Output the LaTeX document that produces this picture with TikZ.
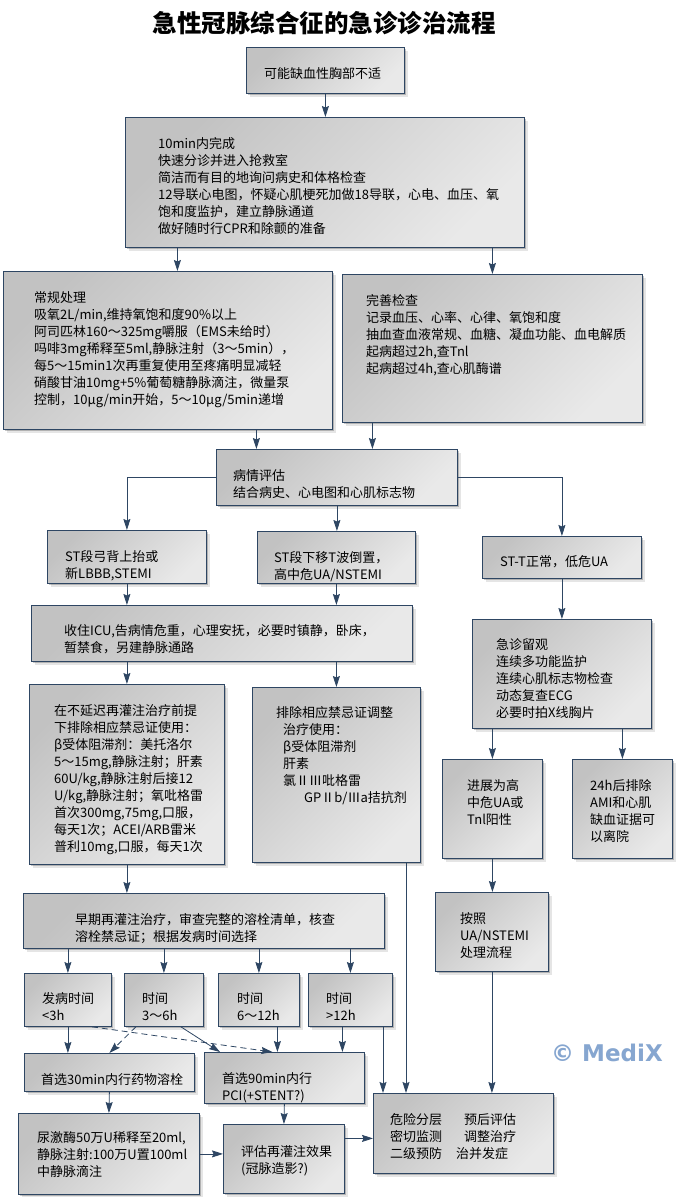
\documentclass[tikz,border=0pt]{standalone}
\usepackage{fontspec}
\setmainfont{Noto Sans CJK SC}
\newfontfamily\markfont{DejaVu Sans}
\usetikzlibrary{arrows.meta,shadows}
\definecolor{edge}{HTML}{2E4663}
\definecolor{boxdark}{HTML}{C2C2C2}
\definecolor{boxlight}{HTML}{E9E9E9}
\definecolor{markblue}{HTML}{86A6D0}
\tikzset{
	box/.style={draw=edge, line width=0.8pt, anchor=north west, inner sep=0pt,
		top color=boxdark, bottom color=boxlight, shading angle=45,
		general shadow={shadow xshift=2pt, shadow yshift=-2pt, fill=black, opacity=.22},
		general shadow={shadow xshift=4pt, shadow yshift=-4pt, fill=black, opacity=.1}},
	txt/.style={anchor=north west, inner sep=0pt, align=left, font=\fontsize{13}{17}\selectfont},
	arr/.style={draw=edge, line width=0.8pt, -{Stealth[length=11pt, width=7pt, inset=1.5pt]}},
	darr/.style={arr, dash pattern=on 6pt off 4pt}
}
\begin{document}
\begin{tikzpicture}[x=1pt, y=-1pt]
		\useasboundingbox (0,0) rectangle (675,1197);
		\fill[white] (0,0) rectangle (675,1197);
		\node[font=\fontsize{24.5}{28}\selectfont\bfseries] (title) at (324,23) {急性冠脉综合征的急诊诊治流程};
		
		\node[box, minimum width=158, minimum height=46] (chest) at (246,47) {};
		\node[txt] (chestT) at ([xshift=18, yshift=-20.5]chest.north west) {可能缺血性胸部不适};
		
		\node[box, minimum width=399, minimum height=130] (triage) at (125,117) {};
		\node[txt] (triageT) at ([xshift=33, yshift=-20.5]triage.north west) {10min内完成\\快速分诊并进入抢救室\\简洁而有目的地询问病史和体格检查\\12导联心电图，怀疑心肌梗死加做18导联，心电、血压、氧\\饱和度监护，建立静脉通道\\做好随时行CPR和除颤的准备};
		
		\node[box, minimum width=329, minimum height=158] (routine) at (3,271) {};
		\node[txt] (routineT) at ([xshift=31, yshift=-20.5]routine.north west) {常规处理\\吸氧2L/min,维持氧饱和度90\%以上\\阿司匹林160～325mg嚼服（EMS未给时）\\吗啡3mg稀释至5ml,静脉注射（3～5min），\\每5～15min1次再重复使用至疼痛明显减轻\\硝酸甘油10mg+5\%葡萄糖静脉滴注，微量泵\\控制，10μg/min开始，5～10μg/5min递增};
		
		\node[box, minimum width=300, minimum height=148] (exam) at (342,274) {};
		\node[txt] (examT) at ([xshift=24, yshift=-20.5]exam.north west) {完善检查\\记录血压、心率、心律、氧饱和度\\抽血查血液常规、血糖、凝血功能、血电解质\\起病超过2h,查Tnl\\起病超过4h,查心肌酶谱};
		
		\node[box, minimum width=241, minimum height=56] (assess) at (216,449) {};
		\node[txt] (assessT) at ([xshift=17, yshift=-20.5]assess.north west) {病情评估\\结合病史、心电图和心肌标志物};
		
		\node[box, minimum width=159, minimum height=53] (stemi) at (47,530) {};
		\node[txt] (stemiT) at ([xshift=18, yshift=-20.5]stemi.north west) {ST段弓背上抬或\\新LBBB,STEMI};
		
		\node[box, minimum width=158, minimum height=52] (nstemi) at (257,531) {};
		\node[txt] (nstemiT) at ([xshift=17, yshift=-20.5]nstemi.north west) {ST段下移T波倒置，\\高中危UA/NSTEMI};
		
		\node[box, minimum width=159, minimum height=42] (lowua) at (482,536) {};
		\node[txt] (lowuaT) at ([xshift=18, yshift=-19.5]lowua.north west) {ST-T正常，低危UA};
		
		\node[box, minimum width=381, minimum height=56] (icu) at (31,605) {};
		\node[txt] (icuT) at ([xshift=33, yshift=-19.5]icu.north west) {收住ICU,告病情危重，心理安抚，必要时镇静，卧床，\\暂禁食，另建静脉通路};
		
		\node[box, minimum width=179, minimum height=109] (observe) at (472,619) {};
		\node[txt] (observeT) at ([xshift=24, yshift=-19.5]observe.north west) {急诊留观\\连续多功能监护\\连续心肌标志物检查\\动态复查ECG\\必要时拍X线胸片};
		
		\node[box, minimum width=100, minimum height=99] (worse) at (442,759) {};
		\node[txt] (worseT) at ([xshift=25, yshift=-20.5]worse.north west) {进展为高\\中危UA或\\Tnl阳性};
		
		\node[box, minimum width=100, minimum height=99] (discharge) at (572,759) {};
		\node[txt] (dischargeT) at ([xshift=18, yshift=-20.5]discharge.north west) {24h后排除\\AMI和心肌\\缺血证据可\\以离院};
		
		\node[box, minimum width=195, minimum height=180] (stemidrug) at (29,684) {};
		\node[txt] (stemidrugT) at ([xshift=25, yshift=-20.5]stemidrug.north west) {在不延迟再灌注治疗前提\\下排除相应禁忌证使用：\\β受体阻滞剂：美托洛尔\\5～15mg,静脉注射；肝素\\60U/kg,静脉注射后接12\\U/kg,静脉注射；氧吡格雷\\首次300mg,75mg,口服，\\每天1次；ACEI/ARB雷米\\普利10mg,口服，每天1次};
		
		\node[box, minimum width=168, minimum height=175] (nstemidrug) at (252,687) {};
		\node[txt] (nstemidrugT) at ([xshift=24, yshift=-19.5]nstemidrug.north west) {排除相应禁忌证调整\\\hspace{7pt}治疗使用：\\\hspace{7pt}β受体阻滞剂\\\hspace{7pt}肝素\\\hspace{7pt}氯ⅡⅢ吡格雷\\\hspace{28pt}GPⅡb/Ⅲa拮抗剂};
		
		\node[box, minimum width=361, minimum height=55] (reperf) at (23,893) {};
		\node[txt] (reperfT) at ([xshift=52, yshift=-20.5]reperf.north west) {早期再灌注治疗，审查完整的溶栓清单，核查\\溶栓禁忌证；根据发病时间选择};
		
		\node[box, minimum width=87, minimum height=53] (onsetA) at (24,973) {};
		\node[txt] (onsetAT) at ([xshift=18, yshift=-19.5]onsetA.north west) {发病时间\\<3h};
		\node[box, minimum width=79, minimum height=53] (onsetB) at (124,973) {};
		\node[txt] (onsetBT) at ([xshift=18, yshift=-19.5]onsetB.north west) {时间\\3～6h};
		\node[box, minimum width=81, minimum height=53] (onsetC) at (218,973) {};
		\node[txt] (onsetCT) at ([xshift=19, yshift=-19.5]onsetC.north west) {时间\\6～12h};
		\node[box, minimum width=84, minimum height=53] (onsetD) at (308,973) {};
		\node[txt] (onsetDT) at ([xshift=18, yshift=-19.5]onsetD.north west) {时间\\>12h};
		
		\node[box, minimum width=113, minimum height=79] (uaflow) at (435,892) {};
		\node[txt] (uaflowT) at ([xshift=25, yshift=-20.5]uaflow.north west) {按照\\UA/NSTEMI\\处理流程};
		
		\node[box, minimum width=170, minimum height=38] (lysis) at (24,1053) {};
		\node[txt] (lysisT) at ([xshift=17, yshift=-20.5]lysis.north west) {首选30min内行药物溶栓};
		
		\node[box, minimum width=160, minimum height=51] (pci) at (204,1052) {};
		\node[txt] (pciT) at ([xshift=18, yshift=-20.5]pci.north west) {首选90min内行\\PCI(+STENT?)};
		
		\node[box, minimum width=181, minimum height=81] (urokinase) at (18,1113) {};
		\node[txt] (urokinaseT) at ([xshift=19, yshift=-18.5]urokinase.north west) {尿激酶50万U稀释至20ml,\\静脉注射:100万U置100ml\\中静脉滴注};
		
		\node[box, minimum width=121, minimum height=69] (evaluate) at (223,1124) {};
		\node[txt] (evaluateT) at ([xshift=18, yshift=-21.5]evaluate.north west) {评估再灌注效果\\(冠脉造影?)};
		
		\node[box, minimum width=180, minimum height=80] (final) at (373,1093) {};
		\node[txt] (finalT) at ([xshift=17, yshift=-20.5]final.north west) {危险分层\hspace{22pt}预后评估\\密切监测\hspace{22pt}调整治疗\\二级预防\hspace{14pt}治并发症};
		
		\node[font=\markfont\bfseries\fontsize{23}{26}\selectfont, text=markblue] (mark) at (607,1053) {© MediX};
		
		\coordinate (routineIn) at ([xshift=9.5]routine.north);
		\coordinate (assessInA) at ([xshift=-80.5]assess.north);
		\coordinate (assessInB) at ([xshift=35.5]assess.north);
		\coordinate (pciInC) at ([xshift=-7]pci.north);
		\coordinate (pciInD) at ([xshift=58]pci.north);
		\coordinate (finalInA) at ([xshift=10]final.north west);
		\coordinate (finalInB) at ([xshift=33]final.north west);
		\coordinate (finalInC) at ([yshift=-5]final.west);
		
		\draw[arr] (chest) -- (chest |- triage.north);
		\draw[arr] (triage.south -| routineIn) -- (routineIn);
		\draw[arr] (triage.south -| exam.north) -- (exam.north);
		\draw[arr] (routine.south -| assessInA) -- (assessInA);
		\draw[arr] (exam.south -| assessInB) -- (assessInB);
		\draw[arr] (assess.west) -| (stemi.north);
		\draw[arr] (assess.south) -- (assess.south |- nstemi.north);
		\draw[arr] (assess.east) -| (lowua.north);
		\draw[arr] (stemi.south) -- (stemi.south |- icu.north);
		\draw[arr] (nstemi.south) -- (nstemi.south |- icu.north);
		\draw[arr] (lowua.south) -- (observe.north);
		\draw[arr] (icu.south -| stemidrug.north) -- (stemidrug.north);
		\draw[arr] (icu.south -| nstemidrug.north) -- (nstemidrug.north);
		\draw[arr] (observe.south -| worse.north) -- (worse.north);
		\draw[arr] (observe.south -| discharge.north) -- (discharge.north);
		\draw[arr] (stemidrug.south) -- (stemidrug.south |- reperf.north);
		\draw[arr] (worse.south) -- (worse.south |- uaflow.north);
		\draw[arr] (reperf.south -| onsetA.north) -- (onsetA.north);
		\draw[arr] (reperf.south -| onsetB.north) -- (onsetB.north);
		\draw[arr] (reperf.south -| onsetC.north) -- (onsetC.north);
		\draw[arr] (reperf.south -| onsetD.north) -- (onsetD.north);
		\draw[arr] (onsetA.south) -- (onsetA.south |- lysis.north);
		\draw[darr] ([xshift=-28]onsetB.south) -- (lysis.north);
		\draw[darr] ([xshift=24]onsetA.south) -- ([xshift=-12]pci.north);
		\draw[arr] ([xshift=17]onsetB.south) -- ([xshift=16]pci.north west);
		\draw[arr] (onsetC.south -| pciInC) -- (pciInC);
		\draw[arr] (onsetD.south -| pciInD) -- (pciInD);
		\draw[arr] (onsetD.south -| finalInA) -- (finalInA);
		\draw[arr] (nstemidrug.south -| finalInB) -- (finalInB);
		\draw[arr] (uaflow.south) -- (uaflow.south |- final.north);
		\draw[arr] (lysis.south) -- (urokinase.north);
		\draw[arr] (pci.south) -- (evaluate.north);
		\draw[arr] (urokinase.east) -- (urokinase.east -| evaluate.west);
		\draw[arr] (evaluate.east |- finalInC) -- (finalInC);
		
	\end{tikzpicture}
\end{document}
